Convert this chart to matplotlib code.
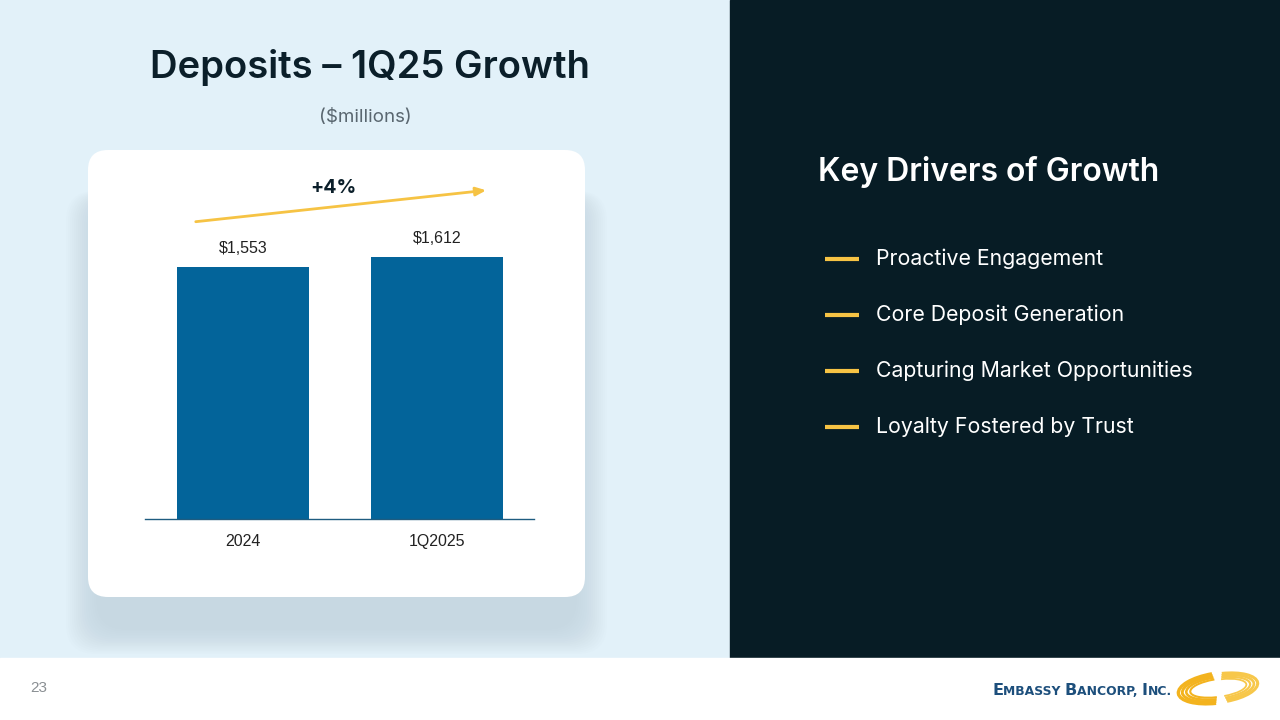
import matplotlib
matplotlib.use("Agg")
import matplotlib.pyplot as plt
from matplotlib.patches import FancyBboxPatch, Rectangle, Arc
import numpy as np

# ---- data ----
categories = ["2024", "1Q2025"]
deposits = [1553, 1612]
value_labels = ["$1,553", "$1,612"]
growth_label = "+4%"
title = "Deposits – 1Q25 Growth"
subtitle = "($millions)"
drivers_title = "Key Drivers of Growth"
drivers = ["Proactive Engagement", "Core Deposit Generation",
           "Capturing Market Opportunities", "Loyalty Fostered by Trust"]
page_number = "23"

W, H = 1280, 720
fig = plt.figure(figsize=(12.8, 7.2), dpi=100)
bg = fig.add_axes([0, 0, 1, 1])
bg.set_xlim(0, W)
bg.set_ylim(H, 0)
bg.axis("off")

LEFT_BG = "#E2F1F9"
DARK = "#071C25"
BAR = "#03649A"
YELLOW = "#F6C344"
TITLE_C = "#0B1F2A"

bg.add_patch(Rectangle((0, 0), 730, 658, color=LEFT_BG, zorder=0))
bg.add_patch(Rectangle((730, 0), 550, 658, color=DARK, zorder=0))
bg.add_patch(Rectangle((0, 658), 1280, 62, color="white", zorder=0))

# card shadow (soft, mostly below)
for i in range(16):
    grow = i * 2.0
    bg.add_patch(FancyBboxPatch((96 - grow, 200 - grow * 0.3), 481 + 2 * grow, 430 + grow * 1.1,
                                boxstyle="round,pad=0,rounding_size=30",
                                facecolor="#A9BCC8", edgecolor="none",
                                alpha=0.028, zorder=1))
bg.add_patch(FancyBboxPatch((88, 150), 497, 447,
                            boxstyle="round,pad=0,rounding_size=20",
                            facecolor="white", edgecolor="none", zorder=2))

# titles
bg.text(370, 68, title, ha="center", va="center", fontsize=27.5,
        fontfamily="Inter", fontweight="semibold", color=TITLE_C, zorder=3)
bg.text(365, 118, subtitle, ha="center", va="center", fontsize=13.5,
        fontfamily="Inter", color="#5A6770", zorder=3)

# growth arrow
bg.annotate("", xy=(489, 190), xytext=(193, 222),
            arrowprops=dict(arrowstyle="-|>,head_length=0.6,head_width=0.25",
                            color=YELLOW, lw=2), zorder=4)
bg.text(333, 188, growth_label, ha="center", va="center", fontsize=14,
        fontfamily="Inter", fontweight="bold", color=TITLE_C, zorder=4)

# right panel
bg.text(818, 172, drivers_title, ha="left", va="center", fontsize=23,
        fontfamily="Inter", fontweight="semibold", color="white", zorder=3)
for i, d in enumerate(drivers):
    y = 259 + i * 56
    bg.plot([825, 859], [y, y], color=YELLOW, lw=3, solid_capstyle="butt", zorder=3)
    bg.text(876, y, d, ha="left", va="center", fontsize=15.3,
            fontfamily="Inter", color="white", zorder=3)

# footer
bg.text(30, 688, page_number, ha="left", va="center", fontsize=11,
        fontfamily="Liberation Sans", color="#8A8F93", zorder=3)

# logo text (small caps)
renderer = fig.canvas.get_renderer()
LOGO_C = "#1D4F7C"
parts = [("E", 11.6), ("MBASSY ", 8.9), ("B", 11.6), ("ANCORP, ", 8.9), ("I", 11.6), ("NC.", 8.9)]
x = 992
for txt, fs in parts:
    t = bg.text(x, 695, txt, ha="left", va="baseline", fontsize=fs,
                fontfamily="DejaVu Sans", fontweight="bold", color=LOGO_C, zorder=3)
    bb = t.get_window_extent(renderer=renderer)
    x += bb.width
# swirl: two crescents made of concentric strokes
cx, cy = 1218, 688
for k, (w, h) in enumerate([(80, 30), (72, 26), (64, 22), (56, 18)]):
    bg.add_patch(Arc((cx, cy), w, h, angle=-8, theta1=105, theta2=255,
                     color="#F3B31E", lw=2.4 - k * 0.3, zorder=3))
    bg.add_patch(Arc((cx + 2, cy), w * 0.95, h * 0.95, angle=-8, theta1=-75, theta2=70,
                     color="#F7C74A", lw=2.2 - k * 0.3, zorder=3))

# ---- bar chart ----
px = 1 / W
py = 1 / H
ax_left, ax_right = 145, 534
ax_bottom, ax_top = 519, 200
ax = fig.add_axes([ax_left * px, 1 - ax_bottom * py,
                   (ax_right - ax_left) * px, (ax_bottom - ax_top) * py])
ax.patch.set_alpha(0)
xpos = np.arange(len(categories))
ax.bar(xpos, deposits, width=0.68, color=BAR, zorder=2)
ax.set_xlim(-0.505, 1.5)
ax.set_ylim(0, 1963)
for xi, v, lab in zip(xpos, deposits, value_labels):
    ax.annotate(lab, (xi, v), xytext=(0, 8), textcoords="offset points",
                ha="center", va="bottom", fontsize=11.5,
                fontfamily="Liberation Sans", color="#222222")
ax.set_xticks(xpos)
ax.set_xticklabels(categories, fontsize=11.5, fontfamily="Liberation Sans", color="#222222")
ax.tick_params(axis="x", length=0, pad=11)
ax.set_yticks([])
for s in ["top", "right", "left"]:
    ax.spines[s].set_visible(False)
ax.spines["bottom"].set_color("#1F5C80")
ax.spines["bottom"].set_linewidth(1)

fig.savefig("out.png", dpi=100)
